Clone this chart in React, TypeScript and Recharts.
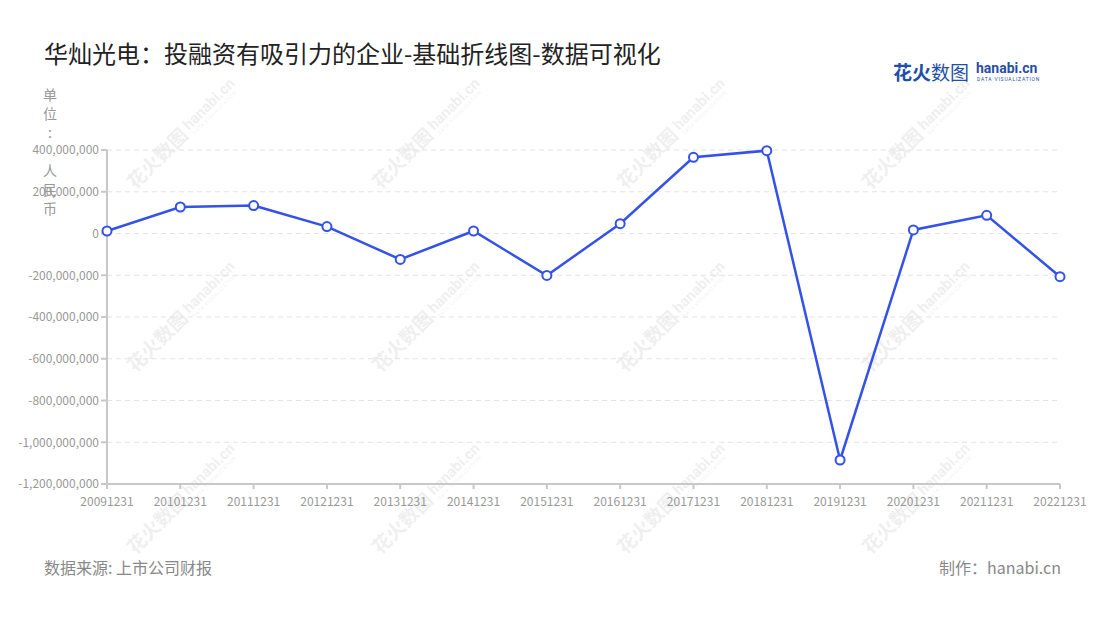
import { LineChart, Line, XAxis, YAxis, CartesianGrid } from 'recharts'

const dates = [
  '20091231', '20101231', '20111231', '20121231', '20131231', '20141231', '20151231',
  '20161231', '20171231', '20181231', '20191231', '20201231', '20211231', '20221231',
]
// 投融资净额（人民币）
const values = [
  12000000, 127000000, 134000000, 33000000, -124000000, 12000000, -201000000,
  47000000, 365000000, 397000000, -1085000000, 17000000, 87000000, -207000000,
]
const yTicks = [
  -1200000000, -1000000000, -800000000, -600000000, -400000000, -200000000, 0, 200000000, 400000000,
]
const unitChars = ['单', '位', ':', '', '人', '民', '币']

const data = dates.map((d, i) => ({ date: d, value: values[i] }))

const FONT = '"Noto Sans CJK SC", "Noto Sans", sans-serif'
const BLUE = '#3452e8'

const markCols = [182, 427, 672, 917]
const markRows = [135, 318, 500]

function Watermarks() {
  return (
    <svg width={1100} height={620} style={{ position: 'absolute', left: 0, top: 0 }}>
      {markRows.map((y) =>
        markCols.map((x) => (
          <g key={`${x}-${y}`} transform={`translate(${x},${y}) rotate(-45)`} fill="#000" opacity={0.06}>
            <text x={-72} y={6} fontSize={19} fontWeight={700} fontFamily={FONT}>花火数图</text>
            <text x={8} y={2} fontSize={15} fontWeight={700} fontFamily="Roboto, sans-serif">hanabi.cn</text>
            <text x={9} y={9} fontSize={5} fontFamily="Roboto, sans-serif" letterSpacing={0.6}>DATA VISUALIZATION</text>
          </g>
        )),
      )}
    </svg>
  )
}

export default function App() {
  return (
    <div style={{ position: 'absolute', left: 0, top: 0, width: 1100, height: 620, background: '#fff', fontFamily: FONT }}>
      <Watermarks />
      <div style={{ position: 'absolute', left: 44, top: 37, fontSize: 24, color: '#222', whiteSpace: 'nowrap', lineHeight: '32px' }}>
        华灿光电：投融资有吸引力的企业-基础折线图-数据可视化
      </div>

      {/* logo */}
      <div style={{ position: 'absolute', left: 893, top: 59, fontSize: 19, fontWeight: 700, color: '#1f4fa8', lineHeight: '26px', whiteSpace: 'nowrap' }}>
        花火<span style={{ fontWeight: 400 }}>数图</span>
      </div>
      <div style={{ position: 'absolute', left: 976, top: 59, fontSize: 14, fontWeight: 700, color: '#2a4ea6', fontFamily: 'Roboto, sans-serif', lineHeight: '18px' }}>
        hanabi.cn
      </div>
      <div style={{ position: 'absolute', left: 977, top: 76, fontSize: 5, color: '#2a4ea6', fontFamily: 'Roboto, sans-serif', letterSpacing: 0.8, lineHeight: '7px', whiteSpace: 'nowrap' }}>
        DATA VISUALIZATION
      </div>

      <LineChart
        width={1100}
        height={620}
        data={data}
        margin={{ top: 150, right: 40, bottom: 106, left: 0 }}
        style={{ position: 'absolute', left: 0, top: 0, fontFamily: FONT }}
      >
        <CartesianGrid vertical={false} stroke="#e3e3e3" strokeDasharray="5 4" />
        <XAxis
          dataKey="date"
          interval={0}
          height={30}
          stroke="#c8c8c8"
          strokeWidth={2}
          tickSize={5}
          tickMargin={8}
          tick={{ fill: '#999', fontSize: 12 }}
        />
        <YAxis
          width={107}
          domain={[-1200000000, 400000000]}
          ticks={yTicks}
          interval={0}
          stroke="#c8c8c8"
          strokeWidth={2}
          tickSize={6}
          tickMargin={2}
          tick={{ fill: '#999', fontSize: 12 }}
          tickFormatter={(v: number) => v.toLocaleString('en-US')}
        />
        <Line
          type="linear"
          dataKey="value"
          stroke={BLUE}
          strokeWidth={2.5}
          dot={{ r: 4.5, fill: '#fff', stroke: BLUE, strokeWidth: 2 }}
          isAnimationActive={false}
        />
      </LineChart>

      {/* unit label */}
      <div style={{ position: 'absolute', left: 42, top: 85, width: 16, fontSize: 14, color: '#999', textAlign: 'center' }}>
        {unitChars.map((c, i) => (
          <div key={i} style={{ height: 19, lineHeight: '19px' }}>{c || '\u00a0'}</div>
        ))}
      </div>

      <div style={{ position: 'absolute', left: 44, top: 555, fontSize: 16, color: '#888', whiteSpace: 'nowrap', lineHeight: '24px' }}>
        数据来源: 上市公司财报
      </div>
      <div style={{ position: 'absolute', right: 39, top: 555, fontSize: 16, color: '#888', whiteSpace: 'nowrap', lineHeight: '24px' }}>
        制作：hanabi.cn
      </div>
    </div>
  )
}
